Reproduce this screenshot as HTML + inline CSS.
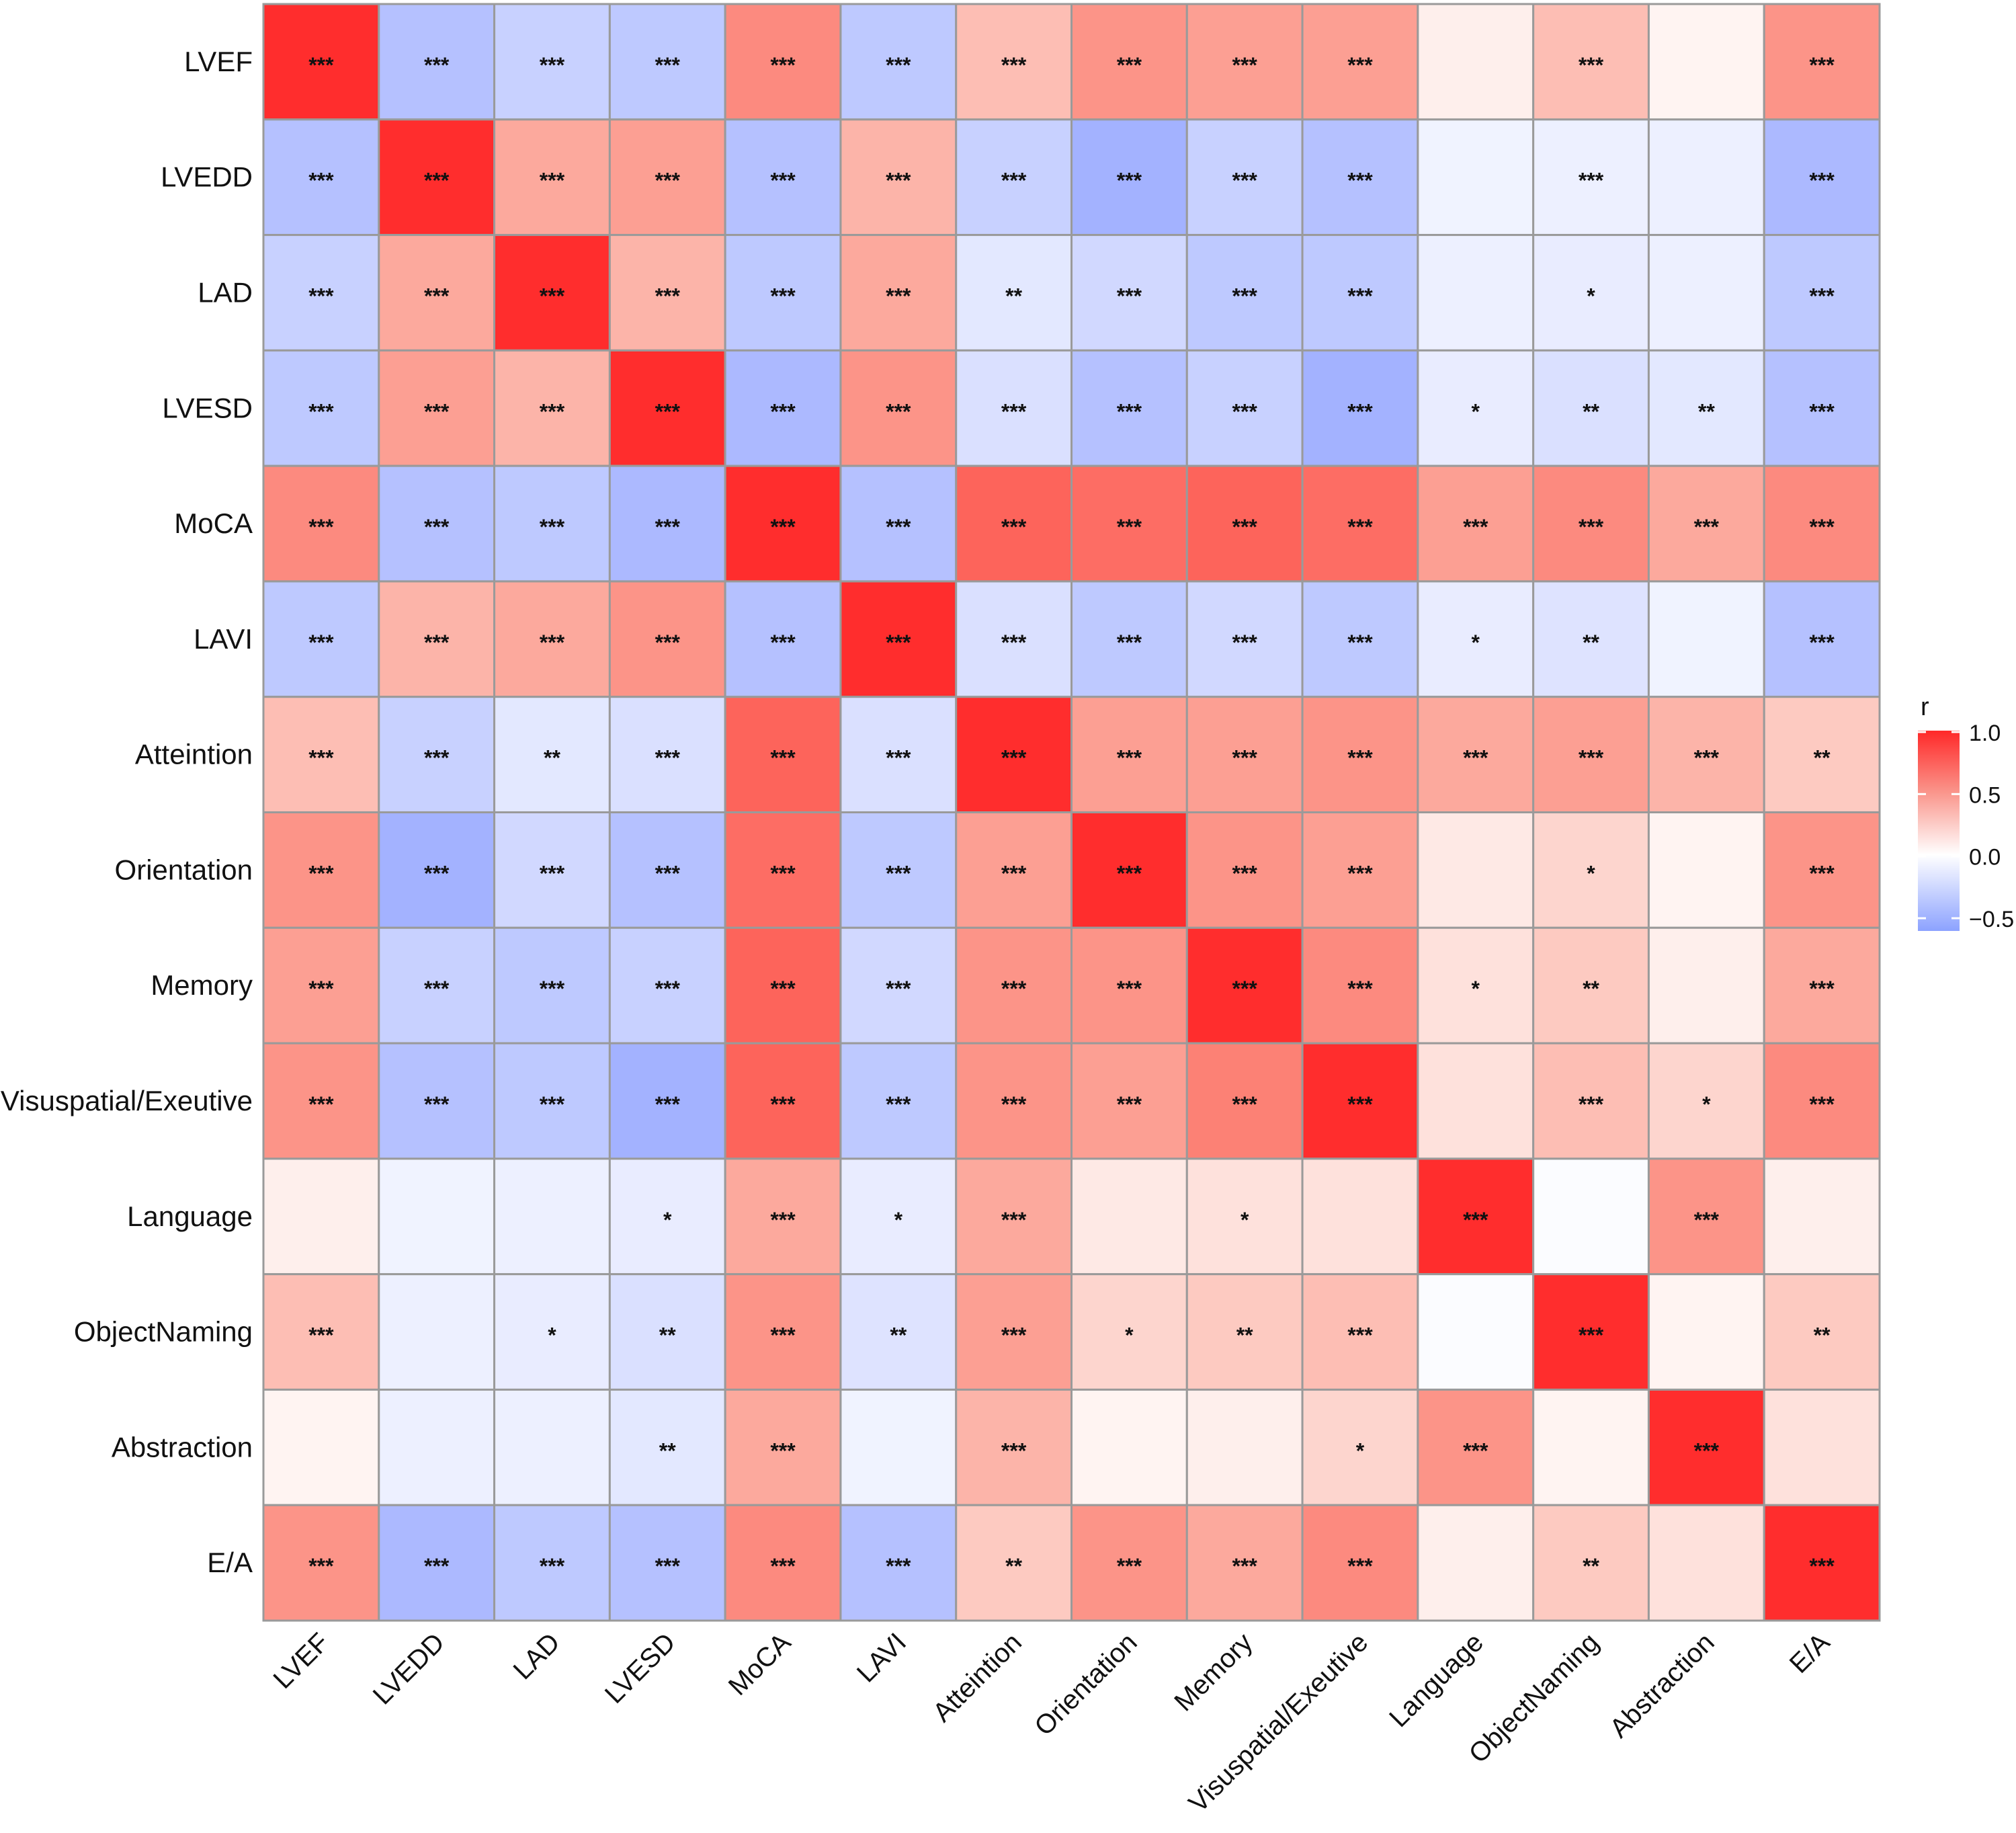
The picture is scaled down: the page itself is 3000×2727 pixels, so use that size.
<!DOCTYPE html>
<html><head><meta charset="utf-8">
<style>
html,body{margin:0;padding:0;background:#fff;}
svg{display:block;font-family:"Liberation Sans",Arial,sans-serif;}
</style></head>
<body>
<svg id="chart" width="3000" height="2727" viewBox="0 0 3000 2727" xmlns="http://www.w3.org/2000/svg">
  <defs>
    <linearGradient id="lg" x1="0" y1="0" x2="0" y2="1">
      <stop offset="0" stop-color="rgb(255,40,40)"/>
      <stop offset="0.31" stop-color="rgb(250,150,140)"/>
      <stop offset="0.62" stop-color="#ffffff"/>
      <stop offset="1" stop-color="rgb(140,162,255)"/>
    </linearGradient>
  </defs>
  <g id="cells"></g>
  <g id="xlabels"></g>
  <g id="ylabels"></g>
  <g id="legend">
    <text x="2858" y="1064" font-size="38" fill="#111">r</text>
    <rect x="2854" y="1087" width="62" height="298" fill="url(#lg)"/>
  </g>
</svg>
<script>
const labels = ["LVEF","LVEDD","LAD","LVESD","MoCA","LAVI","Atteintion","Orientation","Memory","Visuspatial/Exeutive","Language","ObjectNaming","Abstraction","E/A"];
const rLVEF = [1,-0.4,-0.3,-0.35,0.5,-0.35,0.25,0.45,0.4,0.4,0.05,0.25,0.03,0.45];
const rLVEDD = [-0.4,1,0.35,0.4,-0.4,0.3,-0.3,-0.5,-0.3,-0.4,-0.08,-0.1,-0.1,-0.45];
const rLAD = [-0.3,0.35,1,0.3,-0.35,0.35,-0.15,-0.25,-0.35,-0.35,-0.1,-0.12,-0.1,-0.35];
const rLVESD = [-0.35,0.4,0.3,1,-0.45,0.45,-0.2,-0.4,-0.3,-0.5,-0.12,-0.2,-0.15,-0.4];
const rMoCA = [0.5,-0.4,-0.35,-0.45,1,-0.4,0.7,0.65,0.7,0.65,0.4,0.5,0.35,0.5];
const rLAVI = [-0.35,0.3,0.35,0.45,-0.4,1,-0.2,-0.35,-0.25,-0.35,-0.12,-0.18,-0.08,-0.4];
const rAtt = [0.25,-0.3,-0.15,-0.2,0.7,-0.2,1,0.4,0.4,0.45,0.35,0.4,0.3,0.2];
const rOri = [0.45,-0.5,-0.25,-0.4,0.65,-0.35,0.4,1,0.45,0.4,0.07,0.15,0.03,0.45];
const rMem = [0.4,-0.3,-0.35,-0.3,0.7,-0.25,0.45,0.45,1,0.5,0.1,0.2,0.05,0.35];
const rVis = [0.45,-0.4,-0.35,-0.5,0.7,-0.35,0.45,0.4,0.55,1,0.1,0.25,0.15,0.5];
const rLang = [0.05,-0.08,-0.1,-0.12,0.35,-0.12,0.35,0.07,0.1,0.1,1,-0.02,0.45,0.05];
const rObj = [0.25,-0.1,-0.12,-0.2,0.45,-0.18,0.4,0.15,0.2,0.25,-0.02,1,0.03,0.2];
const rAbs = [0.03,-0.1,-0.1,-0.15,0.35,-0.08,0.3,0.03,0.05,0.15,0.45,0.03,1,0.1];
const rEA = [0.45,-0.45,-0.35,-0.4,0.5,-0.4,0.2,0.45,0.35,0.5,0.05,0.2,0.1,1];
const values = [rLVEF,rLVEDD,rLAD,rLVESD,rMoCA,rLAVI,rAtt,rOri,rMem,rVis,rLang,rObj,rAbs,rEA];
const S="***",D="**",O="*",N="";
const sig = [
 [S,S,S,S,S,S,S,S,S,S,N,S,N,S],
 [S,S,S,S,S,S,S,S,S,S,N,S,N,S],
 [S,S,S,S,S,S,D,S,S,S,N,O,N,S],
 [S,S,S,S,S,S,S,S,S,S,O,D,D,S],
 [S,S,S,S,S,S,S,S,S,S,S,S,S,S],
 [S,S,S,S,S,S,S,S,S,S,O,D,N,S],
 [S,S,D,S,S,S,S,S,S,S,S,S,S,D],
 [S,S,S,S,S,S,S,S,S,S,N,O,N,S],
 [S,S,S,S,S,S,S,S,S,S,O,D,N,S],
 [S,S,S,S,S,S,S,S,S,S,N,S,O,S],
 [N,N,N,O,S,O,S,N,O,N,S,N,S,N],
 [S,N,O,D,S,D,S,O,D,S,N,S,N,D],
 [N,N,N,D,S,N,S,N,N,O,S,N,S,N],
 [S,S,S,S,S,S,D,S,S,S,N,D,N,S]
];
const legendTicks = [1.0,0.5,0.0,-0.5];
const legendTickLabels = ["1.0","0.5","0.0","\u22120.5"];

const NS="http://www.w3.org/2000/svg";
const X0=392, Y0=6, W=2405, n=labels.length, cw=W/n;
function xPos(i){return X0+i*cw;}
function yPos(i){return Y0+i*cw;}
function legY(v){return 1089+(1.0-v)*184.7;}
function color(v){
  let r,g,b;
  if(v>=0){const t=Math.pow(v,0.85);r=255-3*Math.sin(Math.PI*t);g=255-(255-45)*t;b=255-(255-45)*t-12*Math.sin(Math.PI*t);}
  else{const t=-v;r=255-(255-70)*t;g=255-(255-100)*t;b=255;}
  return `rgb(${Math.round(r)},${Math.round(g)},${Math.round(b)})`;
}
function mk(tag,attrs,parent){const e=document.createElementNS(NS,tag);for(const k in attrs)e.setAttribute(k,attrs[k]);parent.appendChild(e);return e;}
const cells=document.getElementById('cells');
for(let i=0;i<n;i++){for(let j=0;j<n;j++){
  const r=mk('rect',{x:xPos(j),y:yPos(i),width:cw,height:cw,fill:color(values[i][j]),stroke:'#9a9a9a','stroke-width':3},cells);
  
  
  if(sig[i][j]){
    const t=mk('text',{x:xPos(j)+cw/2,y:yPos(i)+cw/2+16,'font-size':32,'font-weight':'bold','text-anchor':'middle',fill:'#111'},cells);
    t.textContent=sig[i][j];
    
    
  }
}}
const yl=document.getElementById('ylabels');
labels.forEach((l,i)=>{
  const t=mk('text',{x:376,y:yPos(i)+cw/2+14,'font-size':42,'text-anchor':'end',fill:'#111'},yl);
  t.textContent=l;
  
  
});
const xl=document.getElementById('xlabels');
labels.forEach((l,i)=>{
  const cx=xPos(i)+cw/2+14, cy=2446;
  const t=mk('text',{x:cx,y:cy,'font-size':40,'text-anchor':'end',fill:'#111',transform:`rotate(-45 ${cx} ${cy})`},xl);
  t.textContent=l;
  
  
});
const lg=document.getElementById('legend');
legendTicks.forEach((v,k)=>{
  const y=legY(v);
  const a=mk('line',{x1:2854,x2:2866,y1:y,y2:y,stroke:'#fff','stroke-width':3},lg);
  
  
  const b=mk('line',{x1:2904,x2:2916,y1:y,y2:y,stroke:'#fff','stroke-width':3},lg);
  
  
  const t=mk('text',{x:2930,y:y+13,'font-size':34,fill:'#111'},lg);
  t.textContent=legendTickLabels[k];
  
  
});
</script>
</body></html>
